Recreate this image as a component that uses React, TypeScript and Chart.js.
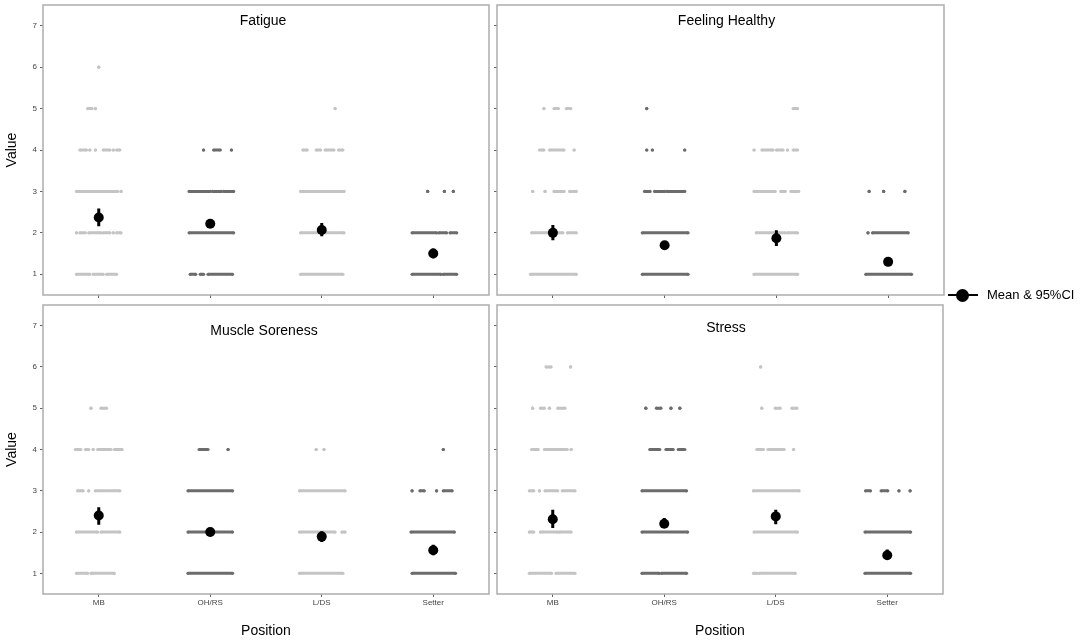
import { useEffect, useRef } from 'react';
import { Chart, registerables } from 'chart.js';

Chart.register(...registerables);

const FONT = '"Liberation Sans", Arial, sans-serif';

const positions = ['MB', 'OH/RS', 'L/DS', 'Setter'];
const valueTicks = [1, 2, 3, 4, 5, 6, 7];
// MB and L/DS light grey, OH/RS and Setter dark grey
const pointColors = ['#c4c4c4', '#6c6c6c', '#c4c4c4', '#6c6c6c'];

type Span = [number, number];
// per position: rows for value 1..7, each row = jittered runs [from, to] in category widths
const fatigueSpans: Span[][][] = [
	[
		[[-0.2, -0.08], [-0.05, 0.04], [0.07, 0.16]],
		[[-0.2, -0.2], [-0.17, -0.12], [-0.09, 0.02], [0.04, 0.1], [0.13, 0.13], [0.16, 0.2]],
		[[-0.2, 0.17], [0.2, 0.2]],
		[[-0.17, -0.11], [-0.08, -0.08], [-0.03, -0.03], [0.04, 0.1], [0.13, 0.13], [0.16, 0.19]],
		[[-0.1, -0.06], [-0.03, -0.03]],
		[[0, 0]],
		[]
	],
	[
		[[-0.18, -0.13], [-0.09, -0.06], [-0.02, 0.2]],
		[[-0.19, 0.21]],
		[[-0.19, 0.0], [0.02, 0.1], [0.12, 0.21]],
		[[-0.06, -0.06], [0.03, 0.09], [0.19, 0.19]],
		[],
		[],
		[]
	],
	[
		[[-0.19, 0.19]],
		[[-0.19, 0.2]],
		[[-0.19, 0.2]],
		[[-0.17, -0.13], [-0.05, -0.01], [0.03, 0.11], [0.15, 0.19]],
		[[0.12, 0.12]],
		[],
		[]
	],
	[
		[[-0.19, 0.07], [0.09, 0.21]],
		[[-0.19, 0.03], [0.05, 0.12], [0.15, 0.21]],
		[[-0.05, -0.05], [0.1, 0.1], [0.18, 0.18]],
		[],
		[],
		[],
		[]
	]
];
const fatigueMean = [2.37, 2.22, 2.07, 1.5];
const fatigueLow = [2.16, 2.16, 1.92, 1.39];
const fatigueHigh = [2.59, 2.28, 2.24, 1.62];

const healthySpans: Span[][][] = [
	[
		[[-0.2, 0.21]],
		[[-0.19, 0.09], [0.13, 0.21]],
		[[-0.18, -0.18], [-0.07, -0.07], [0.01, 0.1], [0.15, 0.21]],
		[[-0.12, -0.08], [-0.03, 0.1], [0.19, 0.19]],
		[[-0.08, -0.08], [0.01, 0.05], [0.12, 0.16]],
		[],
		[]
	],
	[
		[[-0.2, 0.21]],
		[[-0.2, 0.21]],
		[[-0.18, -0.13], [-0.09, 0.0], [0.02, 0.18]],
		[[-0.16, -0.16], [-0.11, -0.11], [0.18, 0.18]],
		[[-0.16, -0.16]],
		[],
		[]
	],
	[
		[[-0.2, 0.19]],
		[[-0.18, 0.08], [0.1, 0.19]],
		[[-0.2, -0.01], [0.04, 0.08], [0.13, 0.2]],
		[[-0.2, -0.2], [-0.13, -0.03], [0.0, 0.06], [0.1, 0.1], [0.15, 0.19]],
		[[0.15, 0.19]],
		[],
		[]
	],
	[
		[[-0.2, 0.21]],
		[[-0.18, -0.18], [-0.14, 0.18]],
		[[-0.17, -0.17], [-0.04, -0.04], [0.15, 0.15]],
		[],
		[],
		[],
		[]
	]
];
const healthyMean = [2.0, 1.7, 1.87, 1.3];
const healthyLow = [1.82, 1.6, 1.68, 1.21];
const healthyHigh = [2.19, 1.8, 2.06, 1.39];

const sorenessSpans: Span[][][] = [
	[
		[[-0.2, -0.1], [-0.07, 0.14]],
		[[-0.2, -0.01], [0.02, 0.19]],
		[[-0.19, -0.14], [-0.09, -0.09], [-0.03, 0.19]],
		[[-0.21, -0.16], [-0.12, -0.09], [-0.05, -0.05], [-0.01, 0.11], [0.14, 0.21]],
		[[-0.07, -0.07], [0.02, 0.07]],
		[],
		[]
	],
	[
		[[-0.2, 0.2]],
		[[-0.2, 0.2]],
		[[-0.2, 0.2]],
		[[-0.1, -0.02], [0.16, 0.16]],
		[],
		[],
		[]
	],
	[
		[[-0.2, 0.19]],
		[[-0.2, 0.12], [0.18, 0.21]],
		[[-0.2, 0.21]],
		[[-0.05, -0.05], [0.02, 0.02]],
		[],
		[],
		[]
	],
	[
		[[-0.19, 0.2]],
		[[-0.2, 0.19]],
		[[-0.19, -0.19], [-0.12, -0.08], [0.03, 0.03], [0.09, 0.17]],
		[[0.09, 0.09]],
		[],
		[],
		[]
	]
];
const sorenessMean = [2.4, 2.0, 1.89, 1.56];
const sorenessLow = [2.18, 1.9, 1.76, 1.44];
const sorenessHigh = [2.6, 2.1, 2.02, 1.69];

const stressSpans: Span[][][] = [
	[
		[[-0.21, -0.01], [0.03, 0.2]],
		[[-0.21, -0.17], [-0.11, 0.045], [0.06, 0.165]],
		[[-0.21, -0.17], [-0.12, -0.12], [-0.07, 0.045], [0.085, 0.2]],
		[[-0.19, -0.13], [-0.075, 0.13], [0.165, 0.165]],
		[[-0.18, -0.18], [-0.11, -0.075], [-0.03, -0.03], [0.045, 0.11]],
		[[-0.06, -0.015], [0.16, 0.16]],
		[]
	],
	[
		[[-0.2, -0.045], [-0.025, 0.2]],
		[[-0.2, 0.21]],
		[[-0.2, 0.2]],
		[[-0.13, -0.04], [0.015, 0.08], [0.125, 0.185]],
		[[-0.165, -0.165], [-0.07, -0.03], [0.06, 0.06], [0.14, 0.14]],
		[],
		[]
	],
	[
		[[-0.2, -0.17], [-0.15, 0.175]],
		[[-0.195, 0.195]],
		[[-0.2, 0.21]],
		[[-0.17, -0.11], [-0.07, 0.075], [0.16, 0.16]],
		[[-0.125, -0.125], [-0.005, 0.04], [0.145, 0.19]],
		[[-0.135, -0.135]],
		[]
	],
	[
		[[-0.2, 0.21]],
		[[-0.2, 0.21]],
		[[-0.195, -0.15], [-0.055, 0.005], [0.105, 0.105], [0.205, 0.205]],
		[],
		[],
		[],
		[]
	]
];
const stressMean = [2.31, 2.2, 2.38, 1.44];
const stressLow = [2.1, 2.1, 2.19, 1.34];
const stressHigh = [2.54, 2.34, 2.54, 1.58];

type Pt = { x: number; y: number | null };

function stripPoints(rows: Span[][], cat: number): Pt[] {
	const pts: Pt[] = [];
	rows.forEach((spans, li) => {
		spans.forEach(([a, b]) => {
			pts.push({ x: cat + a, y: valueTicks[li] }, { x: cat + b, y: valueTicks[li] }, { x: cat, y: null });
		});
	});
	return pts;
}

const panelFrame = {
	id: 'panelFrame',
	beforeDatasetsDraw(chart: any, _args: any, opts: any) {
		const { ctx, chartArea: a } = chart;
		ctx.save();
		ctx.strokeStyle = '#adadad';
		ctx.lineWidth = 1.5;
		ctx.strokeRect(a.left, a.top, a.right - a.left, a.bottom - a.top);
		ctx.fillStyle = '#000';
		ctx.font = '14px ' + FONT;
		ctx.textAlign = 'center';
		ctx.textBaseline = 'middle';
		ctx.fillText(opts.text, (a.left + a.right) / 2 + opts.dx, a.top + opts.dy);
		ctx.restore();
	}
};

type PanelProps = {
	title: string;
	spans: Span[][][];
	mean: number[];
	low: number[];
	high: number[];
	left: number;
	top: number;
	width: number;
	height: number;
	padTop: number;
	yWidth: number;
	xHeight: number;
	showY: boolean;
	showX: boolean;
	titleDx: number;
	titleDy: number;
};

function Panel(p: PanelProps) {
	const canvasRef = useRef<HTMLCanvasElement>(null);
	useEffect(() => {
		const strips = p.spans.map((rows, i) => ({
			data: stripPoints(rows, i),
			showLine: true,
			borderColor: pointColors[i],
			borderWidth: 3,
			borderCapStyle: 'butt' as const,
			pointRadius: 1.6,
			pointBorderWidth: 0,
			pointBackgroundColor: pointColors[i],
			pointHoverRadius: 0
		}));
		const ciData: Pt[] = [];
		p.mean.forEach((_, i) => {
			ciData.push({ x: i, y: p.low[i] }, { x: i, y: p.high[i] }, { x: i, y: null });
		});
		const chart = new Chart(canvasRef.current as HTMLCanvasElement, {
			type: 'scatter',
			data: {
				datasets: [
					{
						data: p.mean.map((m, i) => ({ x: i, y: m })),
						pointRadius: 5,
						pointBackgroundColor: '#000',
						pointBorderColor: '#000',
						pointBorderWidth: 0,
						pointHoverRadius: 0
					},
					{
						data: ciData,
						showLine: true,
						borderColor: '#000',
						borderWidth: 3,
						pointRadius: 0,
						pointHoverRadius: 0
					},
					...strips
				] as any
			},
			options: {
				animation: false,
				responsive: false,
				events: [],
				layout: { padding: { top: p.padTop, right: 5, left: 0, bottom: 0 } },
				plugins: {
					legend: { display: false },
					tooltip: { enabled: false },
					panelFrame: { text: p.title, dx: p.titleDx, dy: p.titleDy }
				} as any,
				scales: {
					x: {
						type: 'linear',
						min: -0.5,
						max: 3.5,
						afterBuildTicks: (s: any) => {
							s.ticks = positions.map((_, i) => ({ value: i }));
						},
						afterFit: (s: any) => {
							s.height = p.xHeight;
							s.paddingLeft = 0;
							s.paddingRight = 0;
						},
						grid: { display: true, drawOnChartArea: false, drawTicks: true, tickLength: 3, color: '#666' },
						border: { display: false },
						ticks: {
							display: p.showX,
							autoSkip: false,
							maxRotation: 0,
							padding: 1,
							color: '#444',
							font: { size: 8, family: FONT },
							callback: (v: any) => positions[v as number]
						},
						title: {
							display: p.showX,
							text: 'Position',
							color: '#000',
							font: { size: 14, family: FONT },
							padding: { top: 0, bottom: 2.6 }
						}
					},
					y: {
						type: 'linear',
						min: 0.5,
						max: 7.5,
						afterBuildTicks: (s: any) => {
							s.ticks = valueTicks.map((v) => ({ value: v }));
						},
						afterFit: (s: any) => {
							s.width = p.yWidth;
							s.paddingTop = 0;
							s.paddingBottom = 0;
						},
						grid: { display: true, drawOnChartArea: false, drawTicks: true, tickLength: 3, color: '#666' },
						border: { display: false },
						ticks: {
							display: p.showY,
							padding: 3,
							color: '#444',
							font: { size: 8, family: FONT }
						},
						title: {
							display: p.showY,
							text: 'Value',
							color: '#000',
							font: { size: 14, family: FONT },
							padding: { top: 3.6, bottom: 0 }
						}
					}
				}
			},
			plugins: [panelFrame]
		});
		return () => chart.destroy();
	}, []);

	return (
		<canvas
			ref={canvasRef}
			width={p.width}
			height={p.height}
			style={{ position: 'absolute', left: p.left, top: p.top, width: p.width, height: p.height }}
		></canvas>
	);
}

export default function App() {
	return (
		<div style={{ position: 'absolute', left: 0, top: 0, width: 1084, height: 642, background: '#fff', overflow: 'hidden' }}>
			<Panel title="Fatigue" spans={fatigueSpans} mean={fatigueMean} low={fatigueLow} high={fatigueHigh}
				left={0} top={0} width={494} height={300} padTop={5} yWidth={43} xHeight={5}
				showY={true} showX={false} titleDx={-3} titleDy={16} />
			<Panel title="Feeling Healthy" spans={healthySpans} mean={healthyMean} low={healthyLow} high={healthyHigh}
				left={490} top={0} width={459} height={300} padTop={5} yWidth={7} xHeight={5}
				showY={false} showX={false} titleDx={6} titleDy={16} />
			<Panel title="Muscle Soreness" spans={sorenessSpans} mean={sorenessMean} low={sorenessLow} high={sorenessHigh}
				left={0} top={300} width={494} height={342} padTop={3} yWidth={43} xHeight={48}
				showY={true} showX={true} titleDx={-2} titleDy={26} />
			<Panel title="Stress" spans={stressSpans} mean={stressMean} low={stressLow} high={stressHigh}
				left={490} top={300} width={458} height={342} padTop={3} yWidth={7} xHeight={48}
				showY={false} showX={true} titleDx={6} titleDy={23} />
			<div style={{ position: 'absolute', left: 948, top: 284, height: 22, width: 136, fontFamily: FONT }}>
				<div style={{ position: 'absolute', left: 0, top: 10, width: 30, height: 2, background: '#000' }}></div>
				<div style={{ position: 'absolute', left: 8, top: 4.5, width: 13, height: 13, borderRadius: '50%', background: '#000' }}></div>
				<div style={{ position: 'absolute', left: 39, top: 2, fontSize: 13, lineHeight: '18px', color: '#000', whiteSpace: 'nowrap' }}>
					Mean &amp; 95%CI
				</div>
			</div>
		</div>
	);
}
